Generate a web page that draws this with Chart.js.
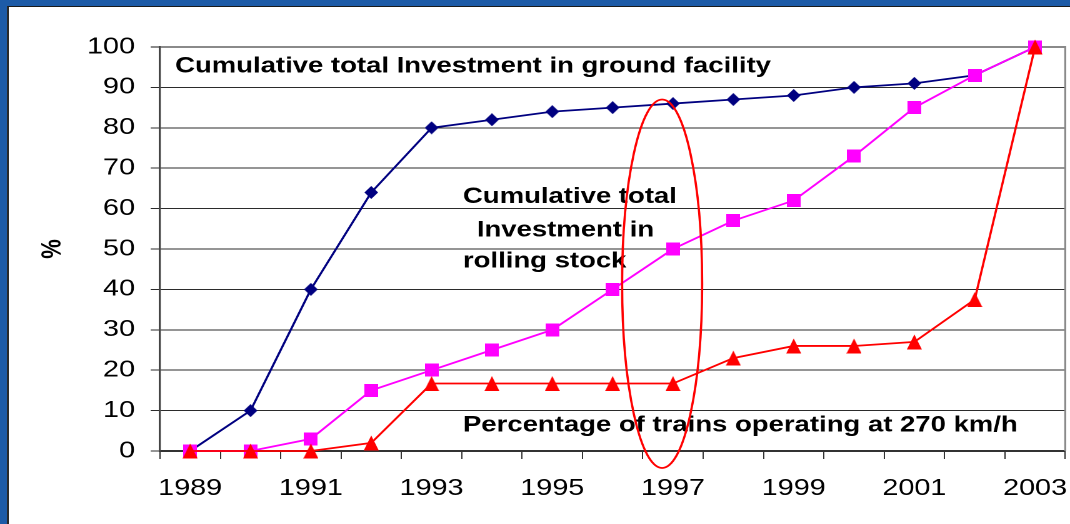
<!DOCTYPE html>
<html>
<head>
<meta charset="utf-8">
<title>Cumulative investment and trains at 270 km/h</title>
<script src="https://cdn.jsdelivr.net/npm/chart.js@4.4.1/dist/chart.umd.min.js"></script>
<style>
  html, body { margin: 0; padding: 0; background: #fff; overflow: hidden; }
  #frame { position: absolute; left: 0; top: 0; width: 1070px; height: 524px; box-sizing: border-box;
           border-top: 6px solid #1d5ba7; border-left: 7px solid #1d5ba7; }
  #inner { width: 100%; height: 100%; box-sizing: border-box; background: #fff;
           border-top: 1px solid #1a1a1a; border-left: 2px solid #2a2a2a; }
  #wrap { position: absolute; left: 0; top: 0; transform-origin: 0 0; }
</style>
</head>
<body>
<div id="frame"><div id="inner"></div></div>
<div id="wrap"><canvas id="chart"></canvas></div>
<script>
const years = ['1989', '1990', '1991', '1992', '1993', '1994', '1995', '1996',
               '1997', '1998', '1999', '2000', '2001', '2002', '2003'];
const yearLabels = ['1989', '1991', '1993', '1995', '1997', '1999', '2001', '2003'];
const groundFacility = [0, 10, 40, 64, 80, 82, 84, 85, 86, 87, 88, 90, 91, 93, 100];
const rollingStock = [0, 0, 3, 15, 20, 25, 30, 40, 50, 57, 62, 73, 85, 93, 100];
const trains270 = [0, 0, 0, 2, 16.7, 16.7, 16.7, 16.7, 16.7, 23, 26, 26, 27, 37.5, 100];
const yTicks = [0, 10, 20, 30, 40, 50, 60, 70, 80, 90, 100];

// the source picture is stretched sideways: its text is wider than Arial but the marks are not
const SX = 1.25;
const W = 860, H = 524;  // a little wider than 1070 / SX, chart.js keeps some room on the right
const FONT = '"Liberation Sans", Arial, sans-serif';

// text written on the plot, placed at [category index, value]
const notesText = [
  { text: 'Cumulative total Investment in ground facility', at: [-0.25, 93.75] },
  { text: 'Cumulative total', at: [4.52, 61.4] },
  { text: 'Investment in', at: [4.75, 53.1] },
  { text: 'rolling stock', at: [4.52, 45.4] },
  { text: 'Percentage of trains operating at 270 km/h', at: [4.52, 4.8] }
];

const wrap = document.getElementById('wrap');
wrap.style.width = W + 'px';
wrap.style.height = H + 'px';
wrap.style.transform = 'scaleX(' + SX + ')';
const canvas = document.getElementById('chart');
canvas.width = W;
canvas.height = H;

// markers are squeezed so they come out square after the stretch
function marker(shape, color, w, h) {
  const k = 4;
  const c = document.createElement('canvas');
  c.width = w * k;
  c.height = h * k;
  const g = c.getContext('2d');
  g.scale(k, k);
  g.fillStyle = color;
  g.beginPath();
  if (shape === 'diamond') {
    g.moveTo(w / 2, 0); g.lineTo(w, h / 2); g.lineTo(w / 2, h); g.lineTo(0, h / 2);
  } else if (shape === 'triangle') {
    g.moveTo(w / 2, 0); g.lineTo(w, h); g.lineTo(0, h);
  } else {
    g.rect(0, 0, w, h);
  }
  g.closePath();
  g.fill();
  return new Promise(resolve => {
    const img = new Image();
    img.onload = () => resolve(img);
    img.width = w;
    img.height = h;
    img.src = c.toDataURL();
  });
}

const notes = {
  id: 'notes',
  beforeDatasetsDraw(chart) {
    const { ctx, chartArea: a } = chart;
    ctx.save();
    ctx.strokeStyle = '#8a8a8a';
    ctx.lineWidth = 1.6;
    ctx.beginPath();
    ctx.moveTo(a.right, a.top - 1);
    ctx.lineTo(a.right, a.bottom);
    ctx.stroke();
    ctx.restore();
  },
  afterDraw(chart) {
    const { ctx } = chart;
    const x = chart.scales.x, y = chart.scales.y;
    ctx.save();
    ctx.fillStyle = '#000';
    ctx.font = 'bold 22px ' + FONT;
    ctx.textBaseline = 'alphabetic';
    notesText.forEach(n => {
      ctx.fillText(n.text, x.getPixelForValue(n.at[0]), y.getPixelForValue(n.at[1]));
    });

    // red ring round 1997
    const cx = x.getPixelForValue(7.82), cy = y.getPixelForValue(41.4);
    const rx = x.getPixelForValue(7.82 + 0.663) - cx;
    const ry = cy - y.getPixelForValue(41.4 + 45.6);
    ctx.strokeStyle = '#ff0000';
    ctx.lineWidth = 1.8;
    ctx.beginPath();
    ctx.ellipse(cx, cy, rx, ry, 0, 0, Math.PI * 2);
    ctx.stroke();
    ctx.restore();
  }
};

Promise.all([
  marker('diamond', '#000080', 11, 13),
  marker('square', '#ff00ff', 11, 13),
  marker('triangle', '#ff0000', 12, 15)
]).then(([diamond, square, triangle]) => {
  new Chart(canvas, {
    type: 'line',
    data: {
      labels: years,
      datasets: [
        {
          label: 'Cumulative total Investment in ground facility',
          data: groundFacility,
          borderColor: '#000080',
          backgroundColor: '#000080',
          borderWidth: 1.8,
          pointStyle: diamond,
          pointRadius: 6,
          clip: false,
          order: 3
        },
        {
          label: 'Cumulative total Investment in rolling stock',
          data: rollingStock,
          borderColor: '#ff00ff',
          backgroundColor: '#ff00ff',
          borderWidth: 1.8,
          pointStyle: square,
          pointRadius: 6,
          clip: false,
          order: 2
        },
        {
          label: 'Percentage of trains operating at 270 km/h',
          data: trains270,
          borderColor: '#ff0000',
          backgroundColor: '#ff0000',
          borderWidth: 1.8,
          pointStyle: triangle,
          pointRadius: 6,
          clip: false,
          order: 1
        }
      ]
    },
    options: {
      responsive: false,
      devicePixelRatio: 2,
      animation: false,
      events: [],
      layout: { padding: { left: 29, top: 47, right: 0, bottom: 0 } },
      plugins: {
        legend: { display: false },
        tooltip: { enabled: false }
      },
      scales: {
        x: {
          type: 'category',
          offset: true,
          afterFit: s => {
            s.height = 73;
            s.paddingLeft = 0;
            s.paddingRight = 0;
          },
          grid: {
            offset: true,
            drawOnChartArea: false,
            tickLength: 8,
            color: '#333'
          },
          border: { color: '#333', width: 2 },
          ticks: {
            autoSkip: false,
            maxRotation: 0,
            padding: 16,
            color: '#000',
            font: { family: FONT, size: 23 },
            callback: function (v) {
              const lab = this.getLabelForValue(v);
              return yearLabels.includes(lab) ? lab : '';
            }
          }
        },
        y: {
          min: 0,
          max: 100,
          afterFit: s => { s.width = 160 / SX - 29; },
          afterBuildTicks: s => { s.ticks = yTicks.map(v => ({ value: v })); },
          grid: {
            tickLength: 7.5,
            color: c => (c.tick && c.tick.value === 100 ? '#8a8a8a' : '#2b2b2b'),
            lineWidth: c => (c.tick && c.tick.value === 100 ? 2 : 1)
          },
          border: { color: '#444', width: 1.6 },
          ticks: {
            padding: 12.5,
            color: '#000',
            font: { family: FONT, size: 23 }
          },
          title: {
            display: true,
            text: '%',
            color: '#000',
            padding: { top: 0, bottom: 0 },
            font: { family: FONT, size: 22, weight: 'bold' }
          }
        }
      }
    },
    plugins: [notes]
  });
});
</script>
</body>
</html>
